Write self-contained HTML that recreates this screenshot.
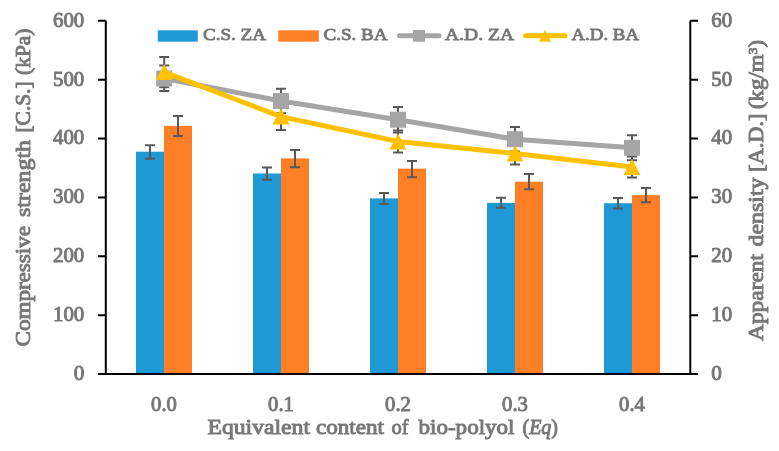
<!DOCTYPE html><html><head><meta charset="utf-8"><style>html,body{margin:0;padding:0;background:#fff;}svg{display:block;}text{font-family:"Liberation Serif", serif;fill:#777777;stroke:#777777;stroke-width:0.95;}</style></head><body><div style="will-change:transform">
<svg width="779" height="451" viewBox="0 0 779 451">
<rect width="779" height="451" fill="#fff"/>
<rect x="136.00" y="151.70" width="28.00" height="222.30" fill="#1f98d6"/>
<rect x="164.00" y="125.80" width="28.00" height="248.20" fill="#ff7f27"/>
<rect x="253.00" y="173.50" width="28.00" height="200.50" fill="#1f98d6"/>
<rect x="281.00" y="158.40" width="28.00" height="215.60" fill="#ff7f27"/>
<rect x="370.00" y="198.40" width="28.00" height="175.60" fill="#1f98d6"/>
<rect x="398.00" y="168.60" width="28.00" height="205.40" fill="#ff7f27"/>
<rect x="487.00" y="202.90" width="28.00" height="171.10" fill="#1f98d6"/>
<rect x="515.00" y="181.70" width="28.00" height="192.30" fill="#ff7f27"/>
<rect x="604.00" y="203.20" width="28.00" height="170.80" fill="#1f98d6"/>
<rect x="632.00" y="195.10" width="28.00" height="178.90" fill="#ff7f27"/>
<path d="M150.00 145.30V158.70M145.00 145.30H155.00M145.00 158.70H155.00" stroke="#595959" stroke-width="2" fill="none"/>
<path d="M178.00 116.00V136.00M173.00 116.00H183.00M173.00 136.00H183.00" stroke="#595959" stroke-width="2" fill="none"/>
<path d="M267.00 167.40V179.70M262.00 167.40H272.00M262.00 179.70H272.00" stroke="#595959" stroke-width="2" fill="none"/>
<path d="M295.00 149.90V167.30M290.00 149.90H300.00M290.00 167.30H300.00" stroke="#595959" stroke-width="2" fill="none"/>
<path d="M384.00 193.00V204.00M379.00 193.00H389.00M379.00 204.00H389.00" stroke="#595959" stroke-width="2" fill="none"/>
<path d="M412.00 160.90V177.20M407.00 160.90H417.00M407.00 177.20H417.00" stroke="#595959" stroke-width="2" fill="none"/>
<path d="M501.00 197.70V207.80M496.00 197.70H506.00M496.00 207.80H506.00" stroke="#595959" stroke-width="2" fill="none"/>
<path d="M529.00 174.00V189.20M524.00 174.00H534.00M524.00 189.20H534.00" stroke="#595959" stroke-width="2" fill="none"/>
<path d="M618.00 198.00V208.60M613.00 198.00H623.00M613.00 208.60H623.00" stroke="#595959" stroke-width="2" fill="none"/>
<path d="M646.00 188.00V202.20M641.00 188.00H651.00M641.00 202.20H651.00" stroke="#595959" stroke-width="2" fill="none"/>
<path d="M164.20 65.60V91.00M159.20 65.60H169.20M159.20 91.00H169.20" stroke="#595959" stroke-width="2" fill="none"/>
<path d="M164.20 56.90V87.30M159.20 56.90H169.20M159.20 87.30H169.20" stroke="#595959" stroke-width="2" fill="none"/>
<path d="M281.00 88.80V113.20M276.00 88.80H286.00M276.00 113.20H286.00" stroke="#595959" stroke-width="2" fill="none"/>
<path d="M281.00 103.20V130.00M276.00 103.20H286.00M276.00 130.00H286.00" stroke="#595959" stroke-width="2" fill="none"/>
<path d="M398.00 107.00V132.40M393.00 107.00H403.00M393.00 132.40H403.00" stroke="#595959" stroke-width="2" fill="none"/>
<path d="M398.00 130.40V152.60M393.00 130.40H403.00M393.00 152.60H403.00" stroke="#595959" stroke-width="2" fill="none"/>
<path d="M515.00 126.90V151.50M510.00 126.90H520.00M510.00 151.50H520.00" stroke="#595959" stroke-width="2" fill="none"/>
<path d="M515.00 142.50V164.50M510.00 142.50H520.00M510.00 164.50H520.00" stroke="#595959" stroke-width="2" fill="none"/>
<path d="M632.00 135.30V160.30M627.00 135.30H637.00M627.00 160.30H637.00" stroke="#595959" stroke-width="2" fill="none"/>
<path d="M632.00 156.40V177.60M627.00 156.40H637.00M627.00 177.60H637.00" stroke="#595959" stroke-width="2" fill="none"/>
<polyline points="164.20,78.50 281.00,101.00 398.00,119.70 515.00,139.20 632.00,147.80" fill="none" stroke="#a5a5a5" stroke-width="5" stroke-linejoin="round" stroke-linecap="round"/>
<rect x="156.20" y="70.50" width="16" height="16" fill="#a5a5a5"/>
<rect x="273.00" y="93.00" width="16" height="16" fill="#a5a5a5"/>
<rect x="390.00" y="111.70" width="16" height="16" fill="#a5a5a5"/>
<rect x="507.00" y="131.20" width="16" height="16" fill="#a5a5a5"/>
<rect x="624.00" y="139.80" width="16" height="16" fill="#a5a5a5"/>
<polyline points="164.20,72.10 281.00,116.60 398.00,141.50 515.00,153.50 632.00,167.00" fill="none" stroke="#ffc000" stroke-width="5" stroke-linejoin="round" stroke-linecap="round"/>
<path d="M164.20 64.10L172.70 80.10L155.70 80.10Z" fill="#ffc000"/>
<path d="M281.00 108.60L289.50 124.60L272.50 124.60Z" fill="#ffc000"/>
<path d="M398.00 133.50L406.50 149.50L389.50 149.50Z" fill="#ffc000"/>
<path d="M515.00 145.50L523.50 161.50L506.50 161.50Z" fill="#ffc000"/>
<path d="M632.00 159.00L640.50 175.00L623.50 175.00Z" fill="#ffc000"/>
<path d="M105.8 20.85V374M690.3 20.85V374M98 374H698" stroke="#000" stroke-width="2" fill="none"/>
<path d="M98 374.00H105.8M690.3 374.00H698" stroke="#000" stroke-width="2"/>
<path d="M98 315.13H105.8M690.3 315.13H698" stroke="#000" stroke-width="2"/>
<path d="M98 256.26H105.8M690.3 256.26H698" stroke="#000" stroke-width="2"/>
<path d="M98 197.39H105.8M690.3 197.39H698" stroke="#000" stroke-width="2"/>
<path d="M98 138.52H105.8M690.3 138.52H698" stroke="#000" stroke-width="2"/>
<path d="M98 79.65H105.8M690.3 79.65H698" stroke="#000" stroke-width="2"/>
<path d="M98 20.78H105.8M690.3 20.78H698" stroke="#000" stroke-width="2"/>
<text x="84.3" y="379.90" font-size="21" text-anchor="end" textLength="10.6" lengthAdjust="spacingAndGlyphs">0</text>
<text x="711.2" y="379.90" font-size="21" textLength="10.6" lengthAdjust="spacingAndGlyphs">0</text>
<text x="84.3" y="321.03" font-size="21" text-anchor="end" textLength="31.3" lengthAdjust="spacingAndGlyphs">100</text>
<text x="711.2" y="321.03" font-size="21" textLength="20.9" lengthAdjust="spacingAndGlyphs">10</text>
<text x="84.3" y="262.16" font-size="21" text-anchor="end" textLength="31.3" lengthAdjust="spacingAndGlyphs">200</text>
<text x="711.2" y="262.16" font-size="21" textLength="20.9" lengthAdjust="spacingAndGlyphs">20</text>
<text x="84.3" y="203.29" font-size="21" text-anchor="end" textLength="31.3" lengthAdjust="spacingAndGlyphs">300</text>
<text x="711.2" y="203.29" font-size="21" textLength="20.9" lengthAdjust="spacingAndGlyphs">30</text>
<text x="84.3" y="144.42" font-size="21" text-anchor="end" textLength="31.3" lengthAdjust="spacingAndGlyphs">400</text>
<text x="711.2" y="144.42" font-size="21" textLength="20.9" lengthAdjust="spacingAndGlyphs">40</text>
<text x="84.3" y="85.55" font-size="21" text-anchor="end" textLength="31.3" lengthAdjust="spacingAndGlyphs">500</text>
<text x="711.2" y="85.55" font-size="21" textLength="20.9" lengthAdjust="spacingAndGlyphs">50</text>
<text x="84.3" y="26.68" font-size="21" text-anchor="end" textLength="31.3" lengthAdjust="spacingAndGlyphs">600</text>
<text x="711.2" y="26.68" font-size="21" textLength="20.9" lengthAdjust="spacingAndGlyphs">60</text>
<text x="164.00" y="410.5" font-size="21" text-anchor="middle" textLength="25.8" lengthAdjust="spacingAndGlyphs">0.0</text>
<text x="281.00" y="410.5" font-size="21" text-anchor="middle" textLength="25.8" lengthAdjust="spacingAndGlyphs">0.1</text>
<text x="398.00" y="410.5" font-size="21" text-anchor="middle" textLength="25.8" lengthAdjust="spacingAndGlyphs">0.2</text>
<text x="515.00" y="410.5" font-size="21" text-anchor="middle" textLength="25.8" lengthAdjust="spacingAndGlyphs">0.3</text>
<text x="632.00" y="410.5" font-size="21" text-anchor="middle" textLength="25.8" lengthAdjust="spacingAndGlyphs">0.4</text>
<text x="207.50" y="434.00" font-size="21.7" textLength="102.51" lengthAdjust="spacingAndGlyphs">Equivalent</text>
<text x="316.00" y="434.00" font-size="21.7" textLength="68.01" lengthAdjust="spacingAndGlyphs">content</text>
<text x="391.50" y="434.00" font-size="21.7" textLength="17.02" lengthAdjust="spacingAndGlyphs">of</text>
<text x="418.50" y="434.00" font-size="21.7" textLength="96.01" lengthAdjust="spacingAndGlyphs">bio-polyol</text>
<text x="522.50" y="434.00" font-size="21.7" textLength="35.51" lengthAdjust="spacingAndGlyphs">(<tspan font-style="italic">Eq</tspan>)</text>
<text x="203.00" y="40.10" font-size="17.6" textLength="63.01" lengthAdjust="spacingAndGlyphs" style="stroke-width:0.9">C.S. ZA</text>
<text x="323.50" y="40.10" font-size="17.6" textLength="64.00" lengthAdjust="spacingAndGlyphs" style="stroke-width:0.9">C.S. BA</text>
<text x="445.00" y="40.10" font-size="17.6" textLength="69.01" lengthAdjust="spacingAndGlyphs" style="stroke-width:0.9">A.D. ZA</text>
<text x="571.50" y="40.10" font-size="17.6" textLength="67.53" lengthAdjust="spacingAndGlyphs" style="stroke-width:0.9">A.D. BA</text>
<text transform="translate(29.50,346.50) rotate(-90)" font-size="21.7" textLength="120.50" lengthAdjust="spacingAndGlyphs">Compressive</text>
<text transform="translate(29.50,217.00) rotate(-90)" font-size="21.7" textLength="77.01" lengthAdjust="spacingAndGlyphs">strength</text>
<text transform="translate(29.50,132.50) rotate(-90)" font-size="21.7" textLength="51.09" lengthAdjust="spacingAndGlyphs">[C.S.]</text>
<text transform="translate(29.50,75.00) rotate(-90)" font-size="21.7" textLength="46.52" lengthAdjust="spacingAndGlyphs">(kPa)</text>
<text transform="translate(763.00,341.00) rotate(-90)" font-size="21.7" textLength="87.02" lengthAdjust="spacingAndGlyphs">Apparent</text>
<text transform="translate(763.00,246.50) rotate(-90)" font-size="21.7" textLength="69.02" lengthAdjust="spacingAndGlyphs">density</text>
<text transform="translate(763.00,172.00) rotate(-90)" font-size="21.7" textLength="58.60" lengthAdjust="spacingAndGlyphs">[A.D.]</text>
<text transform="translate(763.00,109.00) rotate(-90)" font-size="21.7" textLength="69.01" lengthAdjust="spacingAndGlyphs">(kg/m<tspan font-size="13" dy="-6.5">3</tspan><tspan dy="6.5">)</tspan></text>
<rect x="157.8" y="30.3" width="40" height="11.4" fill="#1f98d6"/>
<rect x="278.3" y="30.3" width="40.5" height="11.4" fill="#ff7f27"/>
<path d="M399.5 35.8H439" stroke="#a5a5a5" stroke-width="5" stroke-linecap="round"/>
<rect x="413" y="30" width="12" height="11.7" fill="#a5a5a5"/>
<path d="M525.5 35.8H565" stroke="#ffc000" stroke-width="5" stroke-linecap="round"/>
<path d="M545 29.7L551 41.7L539 41.7Z" fill="#ffc000"/>
</svg></div></body></html>
